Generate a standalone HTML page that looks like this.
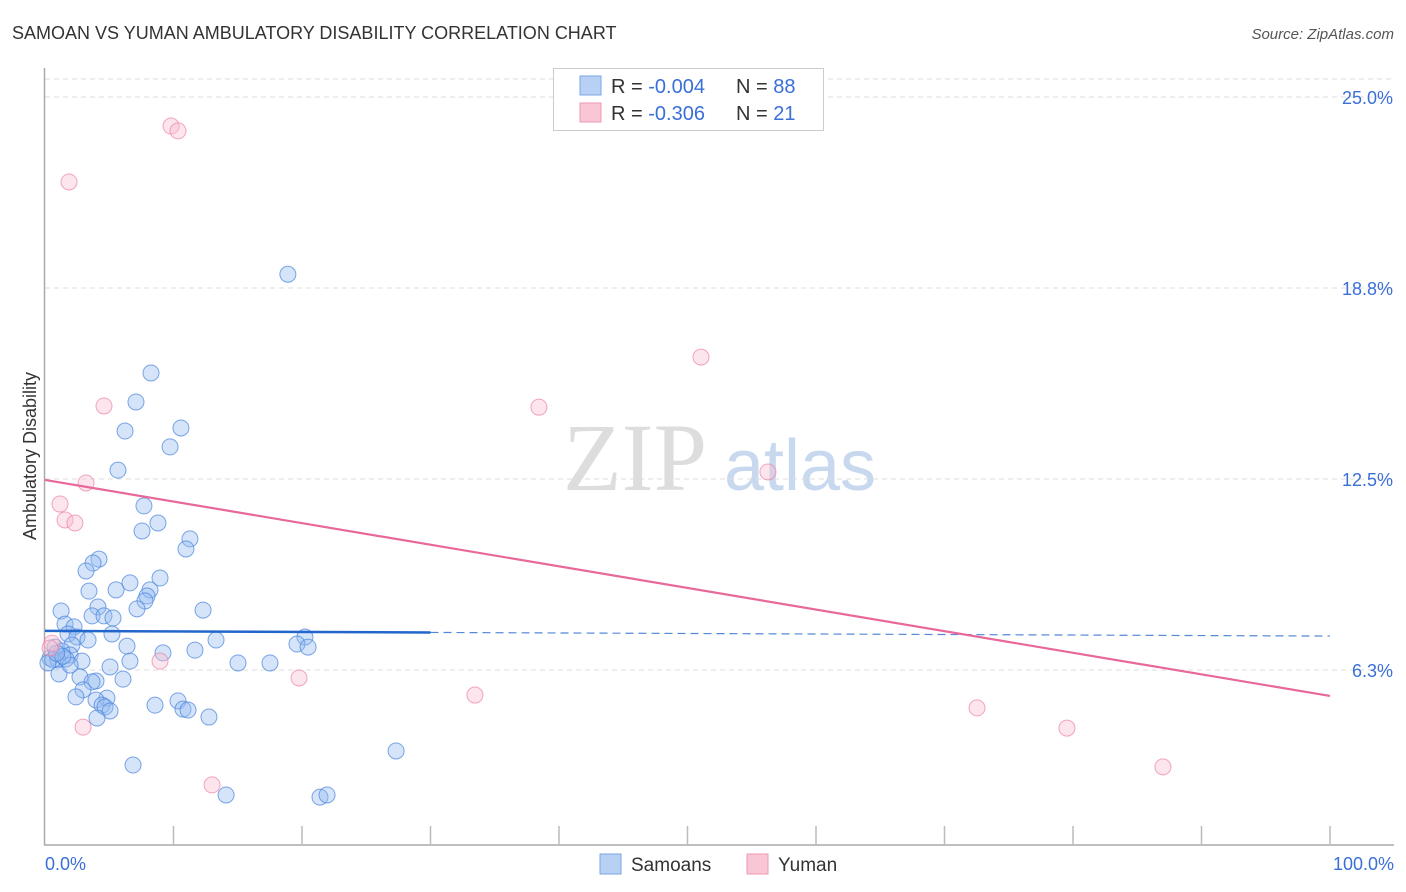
<!DOCTYPE html>
<html><head><meta charset="utf-8"><style>
body{margin:0;background:#fff;font-family:"Liberation Sans",sans-serif}
svg{display:block}
</style></head><body>
<svg id="chart" width="1406" height="892" xmlns="http://www.w3.org/2000/svg">
<text x="12" y="39" font-size="18" fill="#333">SAMOAN VS YUMAN AMBULATORY DISABILITY CORRELATION CHART</text>
<text x="1394" y="39" font-size="15" fill="#555" font-style="italic" text-anchor="end">Source: ZipAtlas.com</text>
<text x="36" y="456" font-size="18" fill="#333" text-anchor="middle" transform="rotate(-90 36 456)">Ambulatory Disability</text>
<g>
<text x="635" y="490" font-size="96" fill="#ddd" font-family="Liberation Serif,serif" text-anchor="middle">ZIP</text>
<text x="800" y="490" font-size="72" fill="#c8d8ee" text-anchor="middle">atlas</text>
</g>
<g id="grid"></g><g id="axes"></g><g id="pts"></g><g id="trend"></g>
<g>
<rect x="553.5" y="68.5" width="270" height="62" fill="#fff" stroke="#ccc"/>
<rect x="580" y="76" width="21" height="19" fill="#b8d0f4" stroke="#7aa6e6"/>
<rect x="580" y="103" width="21" height="19" fill="#f8c6d4" stroke="#ee9ab2"/>
<text x="611" y="93" font-size="20" fill="#333">R = <tspan fill="#3a6fd8">-0.004</tspan><tspan x="736">N = </tspan><tspan fill="#3a6fd8">88</tspan></text>
<text x="611" y="120" font-size="20" fill="#333">R = <tspan fill="#3a6fd8"> -0.306</tspan><tspan x="736">N = </tspan><tspan fill="#3a6fd8"> 21</tspan></text>
</g>
<g>
<rect x="600" y="854" width="21" height="20" fill="#b8d0f4" stroke="#7aa6e6"/>
<text x="631" y="871" font-size="19" fill="#333">Samoans</text>
<rect x="747" y="854" width="21" height="20" fill="#f8c6d4" stroke="#ee9ab2"/>
<text x="778" y="871" font-size="19" fill="#333">Yuman</text>
</g>
</svg>
<script>
const yTicks=[25.0,18.8,12.5,6.3];
const yTickVals=[25,18.75,12.5,6.25];
const xTickLabels=["0.0%","100.0%"];
const blueX=[18.9,8.25,7.08,6.23,10.58,9.73,5.68,7.70,8.79,7.55,11.28,10.97,4.20,3.74,3.19,8.95,6.61,5.53,8.17,3.42,7.94,7.78,4.12,1.25,12.30,7.16,3.66,4.59,5.29,1.56,2.26,1.79,5.21,2.49,3.35,13.31,20.23,19.61,20.47,2.10,6.38,11.67,9.18,0.78,1.32,1.95,0.39,1.01,1.63,2.88,6.61,15.02,17.51,5.06,1.09,2.72,3.97,6.07,3.66,2.96,2.41,4.82,3.97,10.35,8.56,4.44,4.67,10.74,11.13,5.06,4.05,12.76,27.32,6.85,14.09,21.40,21.95,0.62,0.23,1.95,1.40,0.9];
const blueY=[19.2,15.97,15.02,14.07,14.17,13.55,12.79,11.62,11.06,10.80,10.54,10.21,9.88,9.75,9.49,9.26,9.10,8.87,8.87,8.83,8.67,8.51,8.31,8.18,8.21,8.25,8.02,8.02,7.95,7.75,7.66,7.43,7.43,7.33,7.23,7.23,7.33,7.10,7.00,7.07,7.03,6.90,6.81,7.00,6.87,6.74,6.64,6.58,6.61,6.54,6.54,6.48,6.48,6.35,6.12,6.02,5.89,5.95,5.86,5.60,5.37,5.33,5.27,5.24,5.10,5.10,5.04,4.97,4.94,4.91,4.68,4.71,3.60,3.14,2.16,2.09,2.16,6.58,6.48,6.41,6.70,6.80];
const pinkX=[9.81,10.35,1.87,51.05,4.59,38.44,56.26,3.19,1.17,1.56,2.33,8.95,0.54,19.77,33.46,72.53,79.53,2.96,13.00,87.0,0.39];
const pinkY=[24.05,23.89,22.22,16.49,14.89,14.85,12.73,12.37,11.68,11.16,11.06,6.54,7.13,5.99,5.43,5.01,4.35,4.38,2.49,3.08,6.97];
const blueTrend=[7.53,7.36];
const pinkTrend=[12.47,5.40];
const NS="http://www.w3.org/2000/svg";
const X=v=>45+v*12.85;
const Y=v=>861-v*30.56;
function mk(tag,attrs,parent){const e=document.createElementNS(NS,tag);for(const k in attrs)e.setAttribute(k,attrs[k]);document.getElementById(parent).appendChild(e);return e;}
let g=mk('line',{x1:45,x2:1394,y1:79,y2:79,stroke:'#ddd','stroke-dasharray':'5,4'},'grid');


yTickVals.forEach((v,i)=>{
 const l=mk('line',{x1:45,x2:1394,y1:Y(v),y2:Y(v),stroke:'#ddd','stroke-dasharray':'5,4'},'grid');
 
 
 const t=mk('text',{x:1393,y:Y(v)+7,'font-size':18,fill:'#3a6fd8','text-anchor':'end'},'grid');
 t.textContent=yTicks[i].toFixed(1)+'%';
 
 
});
let ax=mk('line',{x1:44.5,x2:44.5,y1:68,y2:845,stroke:'#aaa','stroke-width':1.5},'axes');


ax=mk('line',{x1:44,x2:1394,y1:845,y2:845,stroke:'#aaa','stroke-width':1.5},'axes');


for(let i=1;i<=10;i++){
 const tk=mk('line',{x1:X(i*10),x2:X(i*10),y1:826,y2:845,stroke:'#bbb','stroke-width':1.5},'axes');
 
 
}
let xl=mk('text',{x:45,y:870,'font-size':18,fill:'#3a6fd8'},'axes');xl.textContent=xTickLabels[0];


xl=mk('text',{x:1394,y:870,'font-size':18,fill:'#3a6fd8','text-anchor':'end'},'axes');xl.textContent=xTickLabels[1];


blueX.forEach((x,i)=>{
 const c=mk('circle',{cx:X(x),cy:Y(blueY[i]),r:8,fill:'rgba(150,188,240,0.4)',stroke:'rgba(70,130,220,0.7)','stroke-width':1},'pts');
 
 
});
pinkX.forEach((x,i)=>{
 const c=mk('circle',{cx:X(x),cy:Y(pinkY[i]),r:8,fill:'rgba(248,190,208,0.4)',stroke:'rgba(236,130,165,0.7)','stroke-width':1},'pts');
 
 
});
const bAt=x=>blueTrend[0]+(blueTrend[1]-blueTrend[0])*x/100;
let t1=mk('line',{x1:X(0),y1:Y(bAt(0)),x2:X(30),y2:Y(bAt(30)),stroke:'#2266cc','stroke-width':2.5},'trend');


t1=mk('line',{x1:X(30),y1:Y(bAt(30)),x2:X(100),y2:Y(bAt(100)),stroke:'#5588d8','stroke-width':1.2,'stroke-dasharray':'8,5'},'trend');


const t2=mk('line',{x1:X(0),y1:Y(pinkTrend[0]),x2:X(100),y2:Y(pinkTrend[1]),stroke:'#e8689a','stroke-width':2.2},'trend');


</script>
</body></html>
